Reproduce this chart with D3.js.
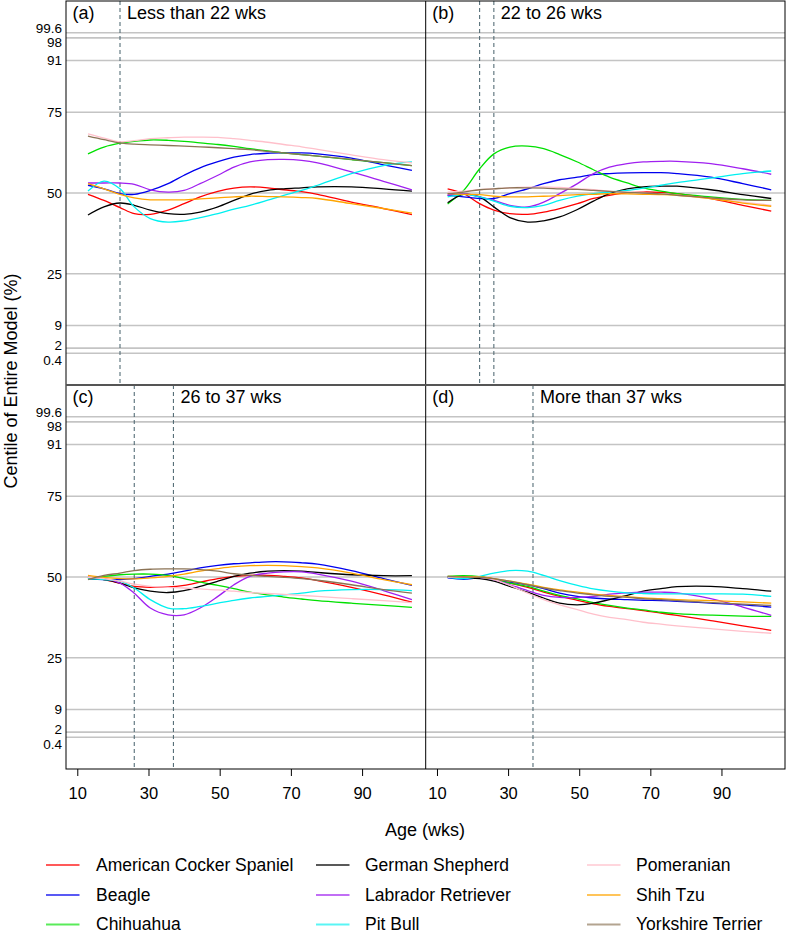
<!DOCTYPE html>
<html><head><meta charset="utf-8">
<script src="https://cdn.jsdelivr.net/npm/d3@7"></script>
<style>body{margin:0;background:#fff}svg{display:block;font-family:"Liberation Sans",Arial,sans-serif}</style>
</head><body><svg id="c" width="786" height="934"></svg>
<script>
const breeds = ["American Cocker Spaniel","Beagle","Chihuahua","German Shepherd","Labrador Retriever","Pit Bull","Pomeranian","Shih Tzu","Yorkshire Terrier"];
const colors = ["#ff0000","#0000ee","#00e000","#000000","#a020f0","#00f0f0","#ffc0cb","#ffa500","#8b7355"];
const ages = [13,17.5,22,26,30.5,35.5,40,44.5,49.5,54,58.5,63.5,68,73,77.5,87,96,104];
const panelLabels = ["(a)","(b)","(c)","(d)"];
const panelTitles = ["Less than 22 wks","22 to 26 wks","26 to 37 wks","More than 37 wks"];
const cutoffs = [[22],[22,26],[26,37],[37]];
const centileTicks = [0.4,2,9,25,50,75,91,98,99.6];
const ageTicks = [10,30,50,70,90];

// centile (%) by breed, panel (a) Less than 22 wks
const panelA = [
 [49.6,47.7,45.5,43.6,43.4,44.7,46.7,48.8,50.5,51.5,51.9,51.6,51.0,50.4,49.6,47.2,45.2,43.3],
 [52.4,51.3,49.8,49.6,50.8,52.9,55.5,57.8,59.7,61.1,61.9,62.3,62.4,62.4,62.1,60.8,58.7,57.0],
 [62.1,64.2,65.4,66.0,66.4,66.3,66.0,65.5,65.0,64.4,63.7,63.0,62.4,61.9,61.4,60.3,59.4,58.5],
 [43.2,45.7,46.9,46.2,44.7,43.6,43.4,44.1,45.7,47.7,49.6,50.8,51.3,51.6,51.9,51.9,51.3,50.6],
 [53.1,53.1,53.1,52.7,51.0,50.3,50.8,52.9,55.5,58.0,59.6,60.3,60.4,60.1,59.3,56.5,53.6,51.0],
 [50.6,53.7,51.3,45.7,42.1,41.0,41.4,42.4,43.6,45.0,46.2,47.8,49.3,50.8,52.4,56.0,58.5,59.6],
 [68.3,67.0,65.8,66.2,66.8,67.1,67.3,67.3,67.2,66.8,66.3,65.7,65.0,64.3,63.5,61.8,60.3,59.3],
 [52.9,51.3,49.6,48.5,47.9,47.9,47.9,48.2,48.5,48.8,49.0,48.9,48.8,48.6,48.3,46.7,45.2,43.8],
 [67.6,66.5,65.5,65.1,64.9,64.7,64.5,64.3,64.0,63.7,63.4,62.9,62.4,61.9,61.4,60.4,59.4,58.5]
];
// panel (b) 22 to 26 wks
const panelB = [
 [51.3,49.8,46.7,44.7,43.6,43.4,44.1,45.2,46.7,48.3,49.3,50.1,50.3,50.2,49.8,48.3,46.2,44.4],
 [49.3,48.8,48.3,48.3,49.8,51.3,52.9,54.1,54.9,55.7,56.0,56.2,56.3,56.3,56.0,54.9,52.9,51.0],
 [46.6,50.8,57.5,62.1,64.2,64.5,63.7,61.9,59.6,57.2,54.9,53.1,51.6,50.6,49.8,48.8,48.0,47.7],
 [47.0,49.6,48.8,45.7,42.4,41.0,41.4,42.6,44.9,47.5,49.8,51.3,51.9,52.1,52.1,51.0,49.5,48.3],
 [49.3,49.8,48.8,47.7,46.2,45.7,47.2,49.8,52.9,56.0,58.0,59.1,59.6,59.8,59.8,59.1,57.5,55.8],
 [48.8,49.6,48.8,47.5,45.9,45.5,46.2,47.7,49.0,49.8,50.3,50.8,51.5,52.4,53.2,54.6,56.0,56.8],
 [50.3,50.6,51.0,51.3,51.6,51.8,51.9,51.7,51.3,51.0,50.6,50.3,50.0,49.7,49.3,48.3,47.2,46.2],
 [49.8,49.6,49.5,49.0,48.8,48.8,49.0,49.2,49.5,49.6,49.8,49.7,49.6,49.5,49.3,48.3,46.9,45.9],
 [49.8,50.3,51.0,51.3,51.6,51.6,51.5,51.3,51.1,50.8,50.5,50.2,50.0,49.7,49.3,48.5,47.9,47.7]
];
// panel (c) 26 to 37 wks
const panelC = [
 [49.9,49.2,48.1,47.1,46.8,46.9,47.4,48.4,49.5,50.2,50.5,50.5,50.2,49.7,48.9,46.8,44.5,42.2],
 [49.5,49.2,49.2,49.5,50.2,50.9,51.8,52.8,53.6,54.1,54.4,54.7,54.7,54.4,54.0,52.0,49.5,47.4],
 [49.5,50.2,50.7,50.9,50.9,50.5,49.5,48.4,47.4,46.4,45.3,44.5,43.8,43.2,42.7,41.9,41.2,40.6],
 [49.5,49.2,48.1,46.6,45.6,45.2,45.8,47.1,48.7,50.2,51.2,51.8,52.0,51.8,51.4,50.7,50.4,50.4],
 [49.9,49.5,48.1,45.0,40.4,38.3,38.3,40.4,44.0,47.6,50.2,51.2,51.6,51.6,50.9,48.7,45.8,43.0],
 [49.5,49.2,48.7,46.6,43.0,40.4,40.2,40.9,41.9,42.8,43.5,44.0,44.5,45.0,45.6,46.1,46.1,45.8],
 [49.9,49.5,48.7,47.8,47.1,46.8,46.6,46.3,46.0,45.6,45.2,44.9,44.6,44.3,44.0,43.3,42.7,42.1],
 [50.5,49.9,49.5,49.4,49.7,50.2,50.9,51.8,52.6,53.2,53.5,53.6,53.5,53.2,52.8,51.2,49.2,47.6],
 [49.2,50.5,51.2,52.0,52.4,52.5,52.5,52.3,51.8,51.0,50.5,50.2,49.9,49.5,49.0,47.6,46.1,45.0]
];
// panel (d) More than 37 wks
const panelD = [
 [50.0,50.0,50.0,49.4,48.1,46.8,45.3,44.0,42.8,41.7,40.9,40.2,39.6,38.8,38.1,36.5,34.9,33.5],
 [49.7,49.3,49.7,49.2,48.4,47.6,46.4,45.0,44.0,43.5,43.2,43.0,42.8,42.7,42.5,41.9,41.4,40.7],
 [50.2,50.4,50.1,49.3,48.1,47.1,45.6,44.3,43.2,42.1,41.2,40.4,39.8,39.1,38.7,38.2,37.9,37.8],
 [50.0,49.7,49.5,48.7,47.1,45.3,43.5,41.9,41.4,41.9,43.0,44.3,45.6,46.4,47.0,47.1,46.4,45.6],
 [50.0,49.9,49.9,49.2,47.6,45.8,44.3,43.7,43.7,44.0,44.7,45.1,45.3,45.3,45.1,43.3,40.7,38.1],
 [50.0,49.5,50.2,51.2,52.0,51.8,50.5,48.9,47.4,46.3,45.6,45.1,44.9,44.8,44.8,44.8,44.7,44.0],
 [50.0,49.9,49.9,49.2,47.4,45.0,43.0,41.4,39.9,38.5,37.5,36.8,36.0,35.4,34.9,34.0,33.2,32.6],
 [50.2,50.1,50.0,49.5,48.7,47.8,46.8,46.0,45.3,44.7,44.3,43.9,43.5,43.3,43.0,42.7,42.3,41.9],
 [50.2,50.0,49.9,49.5,48.7,47.6,46.6,45.8,45.0,44.5,44.0,43.7,43.3,43.0,42.7,42.1,41.6,41.2]
];
const panels = [panelA, panelB, panelC, panelD];

const svg = d3.select("#c");
const L = 66, M = 425.7, R = 785, T = 1, MY = 385, B = 769;
const colsX = [[L, M], [M, R]];
const rowsY = [[T, MY], [MY, B]];
const labelDy = {"99.6": -5, "98": 4.5, "2": -3, "0.4": 7};

panels.forEach((data, p) => {
  const c = p % 2, r = Math.floor(p / 2);
  const [x0, x1] = colsX[c], [y0, y1] = rowsY[r];
  const x = d3.scaleLinear().domain([6.83, 107.87]).range([x0, x1]);
  const y = d3.scaleLinear().domain([-9.4, 109.4]).range([y1, y0]);
  const g = svg.append("g");
  const cid = "clip" + p;
  svg.append("clipPath").attr("id", cid).append("rect")
    .attr("x", x0).attr("y", y0).attr("width", x1 - x0).attr("height", y1 - y0);
  g.selectAll("line.grid").data(centileTicks).join("line")
    .attr("x1", x0).attr("x2", x1).attr("y1", d => y(d)).attr("y2", d => y(d))
    .attr("stroke", "#c4c4c4").attr("stroke-width", 1.6);
  g.selectAll("line.cut").data(cutoffs[p]).join("line")
    .attr("x1", d => x(d)).attr("x2", d => x(d)).attr("y1", y0).attr("y2", y1)
    .attr("stroke", "#45606a").attr("stroke-width", 1).attr("stroke-dasharray", "4,3");
  const line = d3.line().x((d, i) => x(ages[i])).y(d => y(d)).curve(d3.curveCatmullRom.alpha(0.5));
  g.append("g").attr("clip-path", `url(#${cid})`).selectAll("path").data(data).join("path")
    .attr("d", d => line(d)).attr("fill", "none")
    .attr("stroke", (d, i) => colors[i]).attr("stroke-width", 1.3);
  g.append("text").attr("x", x0 + 6.5).attr("y", y0 + 18).attr("font-size", 18).text(panelLabels[p]);
  g.append("text").attr("x", x(d3.max(cutoffs[p])) + 7).attr("y", y0 + 18).attr("font-size", 18).text(panelTitles[p]);
  if (c === 0) {
    const ax = svg.append("g").attr("transform", `translate(${L},0)`)
      .call(d3.axisLeft(y).tickValues(centileTicks).tickSize(0).tickPadding(4).tickFormat(d => String(d)));
    ax.select(".domain").remove();
    ax.selectAll("text").attr("font-size", 13.5).attr("font-family", "Liberation Sans, Arial, sans-serif")
      .attr("fill", "#000").attr("dy", d => (0.32 * 13.5 + (labelDy[String(d)] || 0)) + "px");
  }
  if (r === 1) {
    const ax = svg.append("g").attr("transform", `translate(0,${B})`)
      .call(d3.axisBottom(x).tickValues(ageTicks).tickSize(7).tickPadding(11));
    ax.select(".domain").remove();
    ax.selectAll("line").attr("stroke", "#000");
    ax.selectAll("text").attr("font-size", 16.5).attr("font-family", "Liberation Sans, Arial, sans-serif").attr("fill", "#000");
  }
});

svg.append("rect").attr("x", L).attr("y", T).attr("width", R - L).attr("height", B - T)
  .attr("fill", "none").attr("stroke", "#000").attr("stroke-width", 1);
svg.append("line").attr("x1", M).attr("x2", M).attr("y1", T).attr("y2", B).attr("stroke", "#000").attr("stroke-width", 1);
svg.append("line").attr("x1", L).attr("x2", R).attr("y1", MY).attr("y2", MY).attr("stroke", "#555").attr("stroke-width", 2);

svg.append("text").attr("transform", "translate(17,381) rotate(-90)").attr("text-anchor", "middle")
  .attr("font-size", 18).text("Centile of Entire Model (%)");
svg.append("text").attr("x", 425).attr("y", 836).attr("text-anchor", "middle").attr("font-size", 18).text("Age (wks)");

const legX = [46, 316, 587], legTX = [96, 365, 636], legY = [865, 895, 924.5];
breeds.forEach((b, i) => {
  const col = Math.floor(i / 3), row = i % 3;
  svg.append("line").attr("x1", legX[col]).attr("x2", legX[col] + 33.5)
    .attr("y1", legY[row]).attr("y2", legY[row]).attr("stroke", colors[i]).attr("stroke-width", 2).attr("stroke-opacity", 0.65);
  svg.append("text").attr("x", legTX[col]).attr("y", legY[row]).attr("dy", "0.33em").attr("font-size", 17.5).text(b);
});
</script></body></html>
